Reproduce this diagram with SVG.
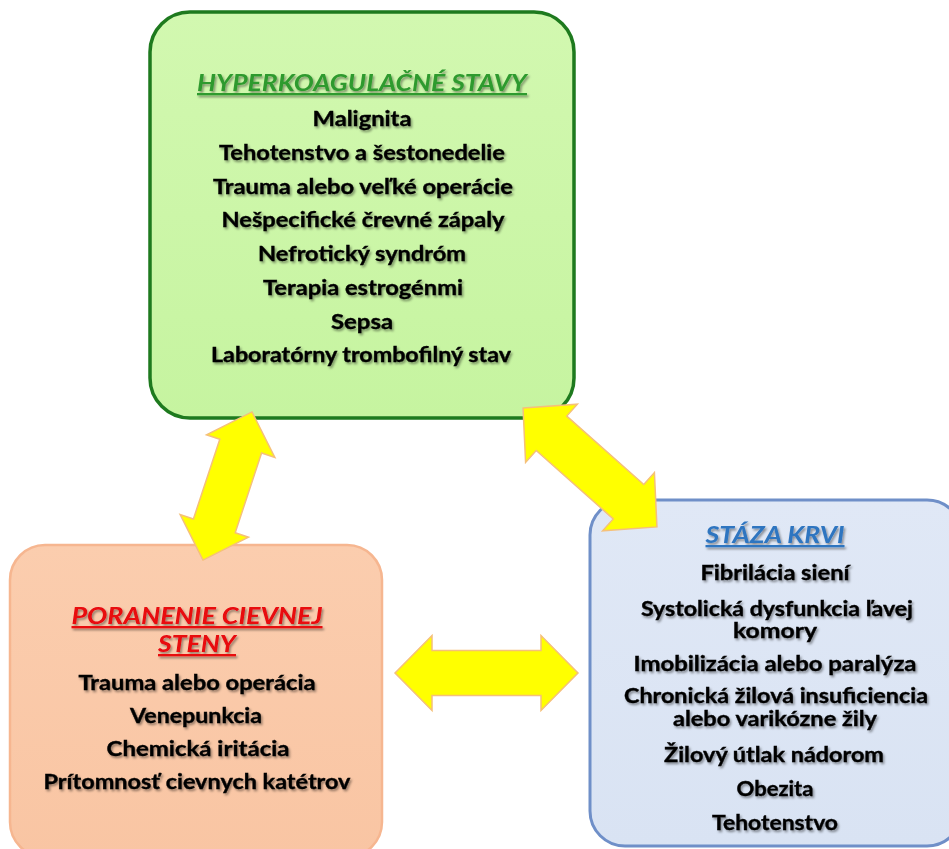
<svg xmlns="http://www.w3.org/2000/svg" width="949" height="849" viewBox="0 0 949 849">
<defs>
<linearGradient id="gGreen" x1="0" y1="0" x2="0" y2="1"><stop offset="0" stop-color="#d2f8b0"/><stop offset="1" stop-color="#c6f4a0"/></linearGradient>
<linearGradient id="gOrange" x1="0" y1="0" x2="0" y2="1"><stop offset="0" stop-color="#fbcdae"/><stop offset="1" stop-color="#f9c5a3"/></linearGradient>
<linearGradient id="gBlue" x1="0" y1="0" x2="0" y2="1"><stop offset="0" stop-color="#e0e8f6"/><stop offset="1" stop-color="#d9e3f3"/></linearGradient>
<filter id="sh" x="-10%" y="-30%" width="120%" height="160%"><feDropShadow dx="1.5" dy="2" stdDeviation="1.2" flood-color="#000" flood-opacity="0.4"/></filter>
</defs>
<style>
.t{font-family:Lato,"Noto Sans","Liberation Sans",sans-serif;font-weight:700;font-size:20px;fill:#000;stroke:#000;stroke-width:0.35;text-anchor:middle;filter:url(#sh)}
.h{font-family:Lato,"Noto Sans","Liberation Sans",sans-serif;font-weight:700;font-style:italic;font-size:23px;text-anchor:middle;text-decoration:underline;filter:url(#sh)}
.arr{fill:#ffff00;stroke:#f5c07a;stroke-width:1.5;stroke-linejoin:miter}
</style>

<g id="hyper">
<rect x="150" y="12" width="424" height="406" rx="40" fill="url(#gGreen)" stroke="#1e7a1e" stroke-width="3.5"/>
<text class="h" x="362" y="91" fill="#2f9a2f" textLength="330" lengthAdjust="spacingAndGlyphs">HYPERKOAGULAČNÉ STAVY</text>
<text class="t" x="362" y="126" textLength="99" lengthAdjust="spacingAndGlyphs">Malignita</text>
<text class="t" x="362" y="160" textLength="286" lengthAdjust="spacingAndGlyphs">Tehotenstvo  a šestonedelie</text>
<text class="t" x="363" y="194" textLength="300" lengthAdjust="spacingAndGlyphs">Trauma alebo veľké operácie</text>
<text class="t" x="363" y="227" textLength="283" lengthAdjust="spacingAndGlyphs">Nešpecifické črevné zápaly</text>
<text class="t" x="362" y="261" textLength="208" lengthAdjust="spacingAndGlyphs">Nefrotický syndróm</text>
<text class="t" x="363" y="295" textLength="200" lengthAdjust="spacingAndGlyphs">Terapia estrogénmi</text>
<text class="t" x="362" y="329" textLength="62" lengthAdjust="spacingAndGlyphs">Sepsa</text>
<text class="t" x="361" y="362" textLength="300" lengthAdjust="spacingAndGlyphs">Laboratórny trombofilný stav</text>
</g>

<g id="poranenie">
<rect x="10" y="545" width="372" height="312" rx="35" fill="url(#gOrange)" stroke="#f6b690" stroke-width="2.5"/>
<text class="h" x="197" y="624" fill="#e8070e" font-size="22" textLength="251" lengthAdjust="spacingAndGlyphs">PORANENIE CIEVNEJ</text>
<text class="h" x="197" y="652" fill="#e8070e" font-size="22" textLength="78" lengthAdjust="spacingAndGlyphs">STENY</text>
<text class="t" x="197" y="690" textLength="237" lengthAdjust="spacingAndGlyphs">Trauma alebo operácia</text>
<text class="t" x="196" y="723" textLength="132" lengthAdjust="spacingAndGlyphs">Venepunkcia</text>
<text class="t" x="198" y="756" textLength="183" lengthAdjust="spacingAndGlyphs">Chemická iritácia</text>
<text class="t" x="197" y="789" textLength="307" lengthAdjust="spacingAndGlyphs">Prítomnosť cievnych katétrov</text>
</g>

<g id="staza">
<rect x="590" y="500" width="372" height="346" rx="35" fill="url(#gBlue)" stroke="#6f8fc8" stroke-width="3"/>
<text class="h" x="775" y="543" fill="#2e75c0" font-size="22" textLength="139" lengthAdjust="spacingAndGlyphs">STÁZA KRVI</text>
<text class="t" x="775" y="580" textLength="149" lengthAdjust="spacingAndGlyphs">Fibrilácia siení</text>
<text class="t" x="777" y="616" textLength="272" lengthAdjust="spacingAndGlyphs">Systolická dysfunkcia ľavej</text>
<text class="t" x="775" y="638" textLength="84" lengthAdjust="spacingAndGlyphs">komory</text>
<text class="t" x="775" y="671" textLength="283" lengthAdjust="spacingAndGlyphs">Imobilizácia  alebo paralýza</text>
<text class="t" x="776" y="703" textLength="304" lengthAdjust="spacingAndGlyphs">Chronická žilová insuficiencia</text>
<text class="t" x="775" y="726" textLength="204" lengthAdjust="spacingAndGlyphs">alebo varikózne žily</text>
<text class="t" x="774" y="762" textLength="220" lengthAdjust="spacingAndGlyphs">Žilový útlak nádorom</text>
<text class="t" x="775" y="796" textLength="77" lengthAdjust="spacingAndGlyphs">Obezita</text>
<text class="t" x="775" y="830" textLength="126" lengthAdjust="spacingAndGlyphs">Tehotenstvo</text>
</g>

<g id="connectors">
<polygon class="arr" transform="translate(227.5,486) rotate(-71.7)" points="-78,0 -42,-36 -42,-22 42,-22 42,-36 78,0 42,36 42,22 -42,22 -42,36"/>
<polygon class="arr" transform="translate(590,467.5) rotate(41.6)" points="-89.5,0 -51.5,-39 -51.5,-23 51.5,-23 51.5,-39 89.5,0 51.5,39 51.5,23 -51.5,23 -51.5,39"/>
<polygon class="arr" transform="translate(486.5,673)" points="-91.5,0 -54.5,-37.5 -54.5,-22.5 54.5,-22.5 54.5,-37.5 91.5,0 54.5,37.5 54.5,22.5 -54.5,22.5 -54.5,37.5"/>
</g>
</svg>
